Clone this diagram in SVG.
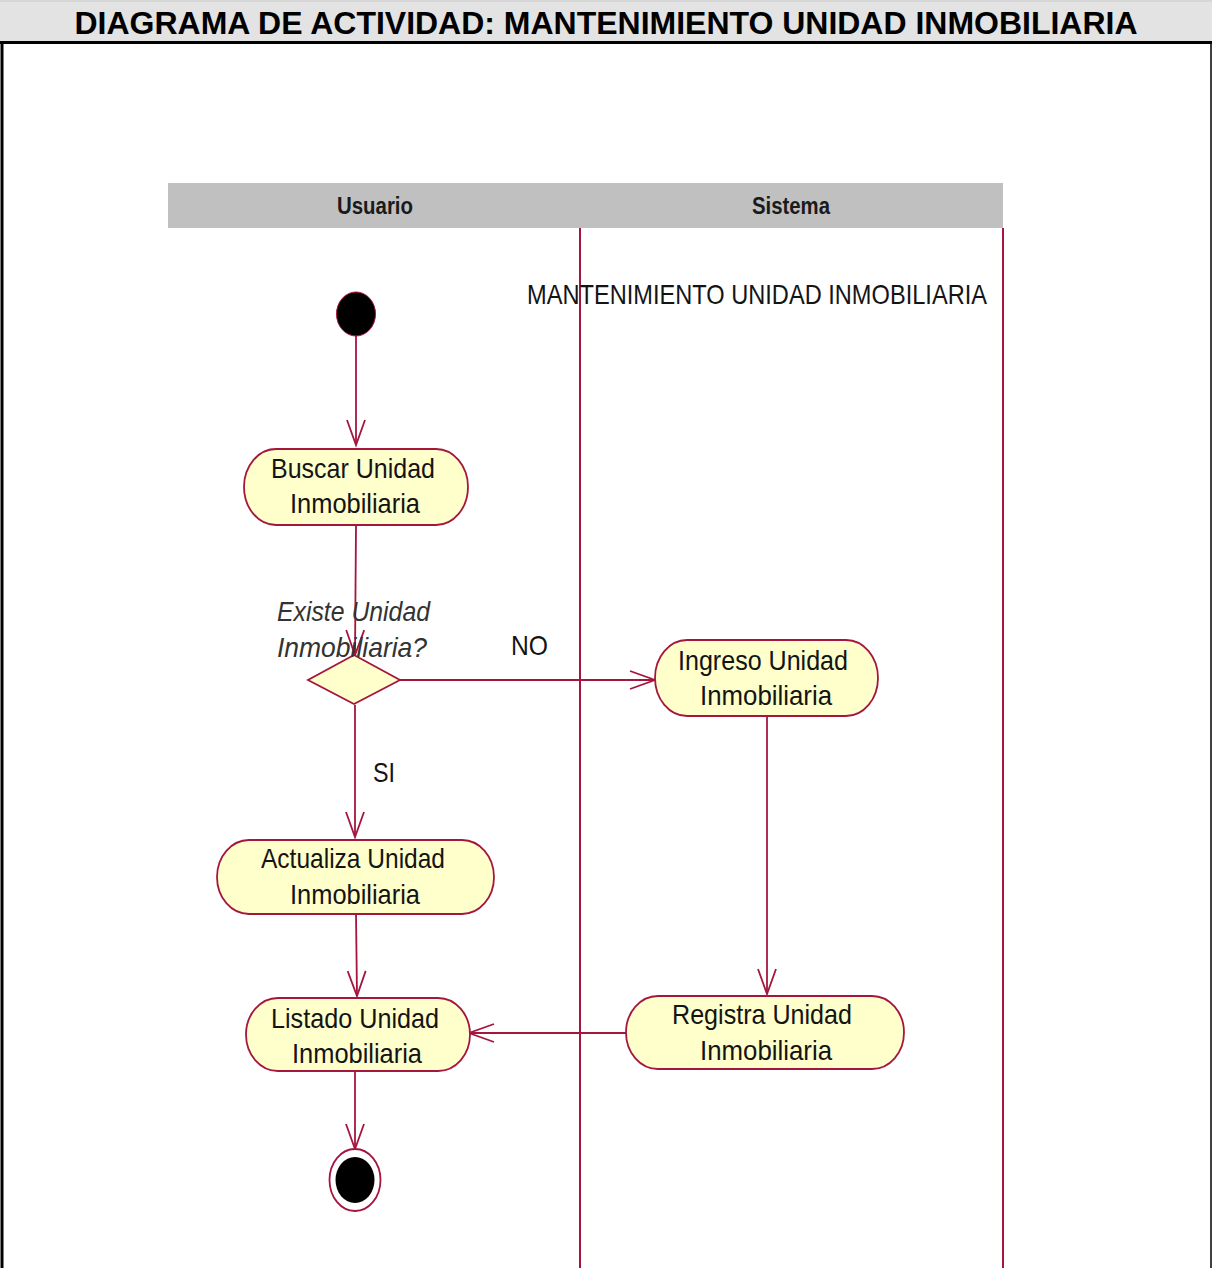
<svg xmlns="http://www.w3.org/2000/svg" width="1212" height="1268" viewBox="0 0 1212 1268">
  <style>
    .title { font-family: "Liberation Sans", Arial, sans-serif; font-weight: bold; font-size: 32px; fill: #000; }
    .lane { font-family: "Liberation Sans", Arial, sans-serif; font-weight: bold; font-size: 23px; fill: #1a1a1a; }
    .lbl { font-family: "Liberation Sans", Arial, sans-serif; font-size: 28px; fill: #141414; }
    .guard { font-family: "Liberation Sans", Arial, sans-serif; font-size: 28px; font-style: italic; fill: #333; }
    .act { fill: #ffffcc; stroke: #a5163f; stroke-width: 1.8; }
    .wire { fill: none; stroke: #a5163f; stroke-width: 1.8; }
    .lanerule { stroke: #a5163f; stroke-width: 2; }
  </style>
  <defs>
    <marker id="open" markerUnits="userSpaceOnUse" markerWidth="30" markerHeight="24" viewBox="-27 -12 30 24" refX="0" refY="0" orient="auto">
      <path d="M-25,-9 L0,0 L-25,9" fill="none" stroke="#a5163f" stroke-width="1.8"/>
    </marker>
  </defs>

  <!-- page frame and heading -->
  <rect x="0" y="0" width="1212" height="42" fill="#e3e3e3"/>
  <line x1="0" y1="1" x2="1212" y2="1" stroke="#d6d6d6" stroke-width="2"/>
  <text class="title" x="606" y="34" text-anchor="middle" textLength="1063" lengthAdjust="spacingAndGlyphs">DIAGRAMA DE ACTIVIDAD: MANTENIMIENTO UNIDAD INMOBILIARIA</text>
  <line x1="0" y1="42.5" x2="1212" y2="42.5" stroke="#000" stroke-width="3"/>
  <line x1="2" y1="42" x2="2" y2="1268" stroke="#000" stroke-width="3"/>
  <line x1="1211" y1="42" x2="1211" y2="1268" stroke="#000" stroke-width="1.5"/>

  <!-- swimlanes -->
  <g id="swimlanes">
    <rect x="168" y="183" width="835" height="45" fill="#c0c0c0"/>
    <text class="lane" x="375" y="214" text-anchor="middle" textLength="76" lengthAdjust="spacingAndGlyphs">Usuario</text>
    <text class="lane" x="791" y="214" text-anchor="middle" textLength="78" lengthAdjust="spacingAndGlyphs">Sistema</text>
    <line class="lanerule" x1="580" y1="228" x2="580" y2="1268"/>
    <line class="lanerule" x1="1003" y1="228" x2="1003" y2="1268"/>
    <text class="lbl" x="527" y="304" textLength="460" lengthAdjust="spacingAndGlyphs">MANTENIMIENTO UNIDAD INMOBILIARIA</text>
  </g>

  <!-- connectors -->
  <g id="connectors">
    <line class="wire" x1="356" y1="336" x2="356" y2="445" marker-end="url(#open)"/>
    <line class="wire" x1="356" y1="525" x2="355" y2="655" marker-end="url(#open)"/>
    <line class="wire" x1="400" y1="680" x2="655" y2="680" marker-end="url(#open)"/>
    <line class="wire" x1="355" y1="705" x2="355" y2="837" marker-end="url(#open)"/>
    <line class="wire" x1="767" y1="716" x2="767" y2="994" marker-end="url(#open)"/>
    <line class="wire" x1="626" y1="1033" x2="469" y2="1033" marker-end="url(#open)"/>
    <line class="wire" x1="356" y1="914" x2="357" y2="996" marker-end="url(#open)"/>
    <line class="wire" x1="355" y1="1071" x2="355" y2="1149" marker-end="url(#open)"/>
    <text class="lbl" x="511" y="655" textLength="37" lengthAdjust="spacingAndGlyphs">NO</text>
    <text class="lbl" x="373" y="782" textLength="22" lengthAdjust="spacingAndGlyphs">SI</text>
  </g>

  <!-- start -->
  <g id="start">
    <ellipse cx="356" cy="314" rx="19.5" ry="22" fill="#000" stroke="#a5163f" stroke-width="1"/>
  </g>

  <!-- activities -->
  <g id="buscar">
    <rect class="act" x="244" y="449" width="224" height="76" rx="32" ry="38"/>
    <text class="lbl" x="353" y="478" text-anchor="middle" textLength="164" lengthAdjust="spacingAndGlyphs">Buscar Unidad</text>
    <text class="lbl" x="355" y="513" text-anchor="middle" textLength="130" lengthAdjust="spacingAndGlyphs">Inmobiliaria</text>
  </g>

  <g id="decision">
    <polygon class="act" points="354,655 400,680 354,704 308,680"/>
    <text class="guard" x="277" y="621" textLength="153" lengthAdjust="spacingAndGlyphs">Existe Unidad</text>
    <text class="guard" x="277" y="657" textLength="150" lengthAdjust="spacingAndGlyphs">Inmobiliaria?</text>
  </g>

  <g id="ingreso">
    <rect class="act" x="655" y="640" width="223" height="76" rx="32" ry="38"/>
    <text class="lbl" x="763" y="670" text-anchor="middle" textLength="170" lengthAdjust="spacingAndGlyphs">Ingreso Unidad</text>
    <text class="lbl" x="766" y="705" text-anchor="middle" textLength="132" lengthAdjust="spacingAndGlyphs">Inmobiliaria</text>
  </g>

  <g id="actualiza">
    <rect class="act" x="217" y="840" width="277" height="74" rx="32" ry="37"/>
    <text class="lbl" x="353" y="868" text-anchor="middle" textLength="184" lengthAdjust="spacingAndGlyphs">Actualiza Unidad</text>
    <text class="lbl" x="355" y="904" text-anchor="middle" textLength="130" lengthAdjust="spacingAndGlyphs">Inmobiliaria</text>
  </g>

  <g id="registra">
    <rect class="act" x="626" y="996" width="278" height="73" rx="32" ry="36.5"/>
    <text class="lbl" x="762" y="1024" text-anchor="middle" textLength="180" lengthAdjust="spacingAndGlyphs">Registra Unidad</text>
    <text class="lbl" x="766" y="1060" text-anchor="middle" textLength="132" lengthAdjust="spacingAndGlyphs">Inmobiliaria</text>
  </g>

  <g id="listado">
    <rect class="act" x="246" y="998" width="224" height="73" rx="32" ry="36.5"/>
    <text class="lbl" x="355" y="1028" text-anchor="middle" textLength="168" lengthAdjust="spacingAndGlyphs">Listado Unidad</text>
    <text class="lbl" x="357" y="1063" text-anchor="middle" textLength="130" lengthAdjust="spacingAndGlyphs">Inmobiliaria</text>
  </g>

  <!-- end -->
  <g id="end">
    <ellipse cx="355" cy="1180" rx="25.5" ry="31" fill="#fff" stroke="#a5163f" stroke-width="1.8"/>
    <ellipse cx="355" cy="1180" rx="19.5" ry="23" fill="#000"/>
  </g>
</svg>
